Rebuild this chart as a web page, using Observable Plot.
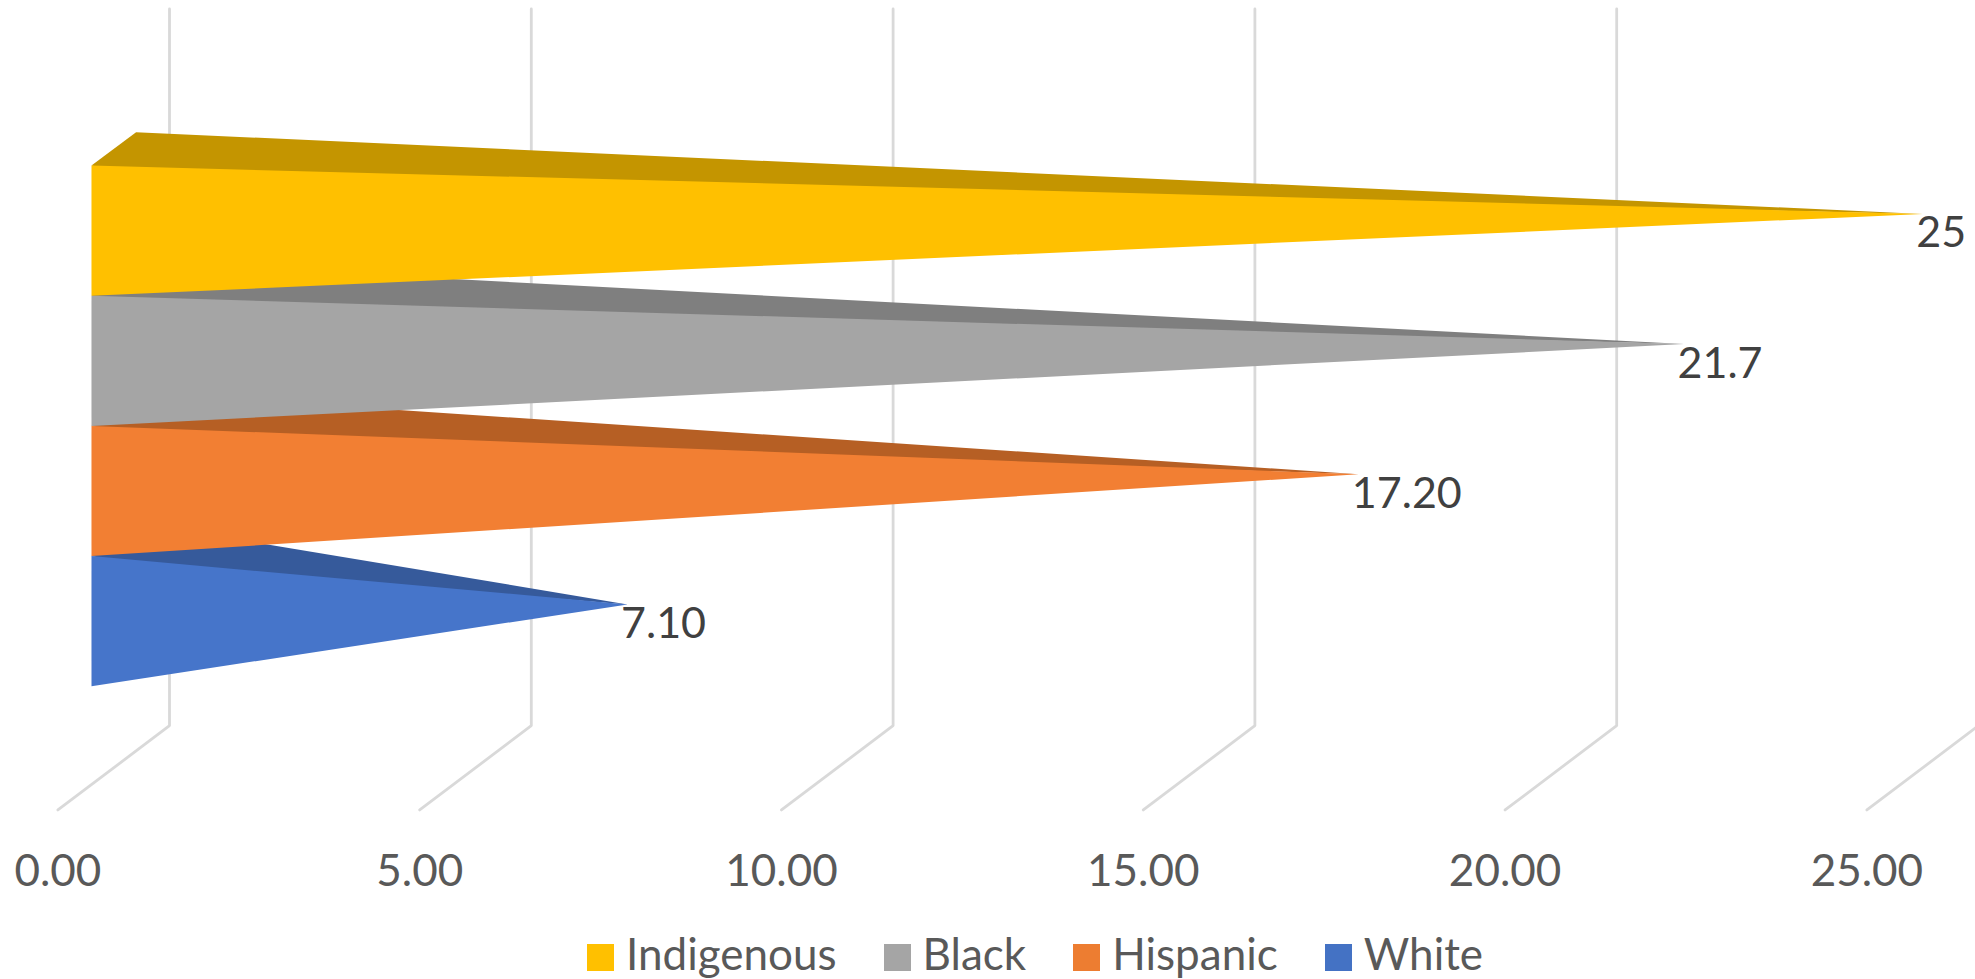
<!DOCTYPE html>
<html>
<head>
<meta charset="utf-8">
<script src="https://cdn.jsdelivr.net/npm/d3@7"></script>
<script src="https://cdn.jsdelivr.net/npm/@observablehq/plot@0.6"></script>
<style>
  html, body { margin: 0; padding: 0; background: #fff; overflow: hidden; }
  svg { display: block; }
  #legend { display: flex; gap: 47px; height: 49px; padding-left: 587px;
            font: 44px Lato, sans-serif; color: #595959; }
  #legend .item { display: flex; align-items: flex-start; gap: 12px; }
  #legend .swatch { width: 27px; height: 27px; margin-top: 14px; }
  #legend .name { line-height: 44px; margin-top: 1px; }
</style>
</head>
<body>
<div id="chart"></div>
<div id="legend"></div>
<script>
// Data, drawn back to front: the top band sits over the ones below it
const series = ["Indigenous", "Black", "Hispanic", "White"];
const values = [25, 21.7, 17.2, 7.1];
const valueLabels = ["25", "21.7", "17.20", "7.10"];
const frontColors = ["#ffc000", "#a5a5a5", "#f27f33", "#4675ca"];
const topColors = ["#c49500", "#7f7f7f", "#b65f24", "#365a9b"];
const legendColors = ["#ffc000", "#a5a5a5", "#ed7d31", "#4472c4"];
const ticks = [0, 5, 10, 15, 20, 25];

// 3D look of the chart, in scale units (x: value, y: bar rows)
const wallDepth = {x: 1.5423, y: -0.6475};
const floorY = 4.947;
const wallTopY = -1.207;
const barInset = 0.471;
const barDepth = {x: 0.6164, y: -0.257};
// the top face runs slightly under the front face, so no seam shows
const faceOverlap = {x: 0.5, y: 0.06};

const rows = series.map((name, i) => {
  const baseX = barInset;
  const apex = {
    x: values[i] + baseX + barDepth.x / 2,
    y: i + 0.5 + barDepth.y / 2
  };
  return {name, i, value: values[i], label: valueLabels[i], baseX, apex,
          front: frontColors[i], top: topColors[i]};
});

const grid = ticks.flatMap(t => [
  {t, x: t, y: floorY},
  {t, x: t + wallDepth.x, y: floorY + wallDepth.y},
  {t, x: t + wallDepth.x, y: wallTopY}
]);

const pyramidMarks = rows.slice().reverse().flatMap(r => {
  const backX = r.baseX + barDepth.x;
  const backY = r.i + barDepth.y;
  const topFace = [
    {x1: r.baseX, y1: r.i, x2: backX, y2: backY},
    {x1: r.baseX + faceOverlap.x, y1: r.i + faceOverlap.y, x2: backX, y2: backY},
    {x1: r.apex.x, y1: r.apex.y, x2: r.apex.x, y2: r.apex.y}
  ];
  const frontFace = [
    {x1: r.baseX, y1: r.i, x2: r.baseX, y2: r.i + 1},
    {x1: r.apex.x, y1: r.apex.y, x2: r.apex.x, y2: r.apex.y}
  ];
  return [
    Plot.area(topFace, {x1: "x1", y1: "y1", x2: "x2", y2: "y2", fill: r.top}),
    Plot.area(frontFace, {x1: "x1", y1: "y1", x2: "x2", y2: "y2", fill: r.front})
  ];
});

const chart = Plot.plot({
  width: 1975,
  height: 930,
  marginLeft: 0,
  marginRight: 0,
  marginTop: 0,
  marginBottom: 76,
  style: {background: "#fff", fontFamily: "Lato, sans-serif"},
  x: {domain: [0, 25], range: [57.4, 1866.4]},
  y: {domain: [0, 4], range: [165.6, 686.2], axis: null},
  marks: [
    Plot.line(grid, {x: "x", y: "y", z: "t", stroke: "#d9d9d9", strokeWidth: 2.8,
                     strokeLinejoin: "miter", curve: "linear"}),
    ...pyramidMarks,
    Plot.axisX({ticks, tickFormat: d3.format(".2f"), tickSize: 0, tickPadding: 0,
                label: null, fontSize: 44, fill: "#595959", lineAnchor: "top"}),
    Plot.text(rows, {x: d => d.apex.x, y: d => d.apex.y, text: "label",
                     textAnchor: "start", lineAnchor: "top", dx: -7, dy: 2.5,
                     fontSize: 43, fill: "#404040"})
  ]
});
document.getElementById("chart").append(chart);

const legend = d3.select("#legend");
series.forEach((name, i) => {
  const item = legend.append("div").attr("class", "item");
  item.append("div").attr("class", "swatch").style("background", legendColors[i]);
  item.append("div").attr("class", "name").text(name);
});
</script>
</body>
</html>
